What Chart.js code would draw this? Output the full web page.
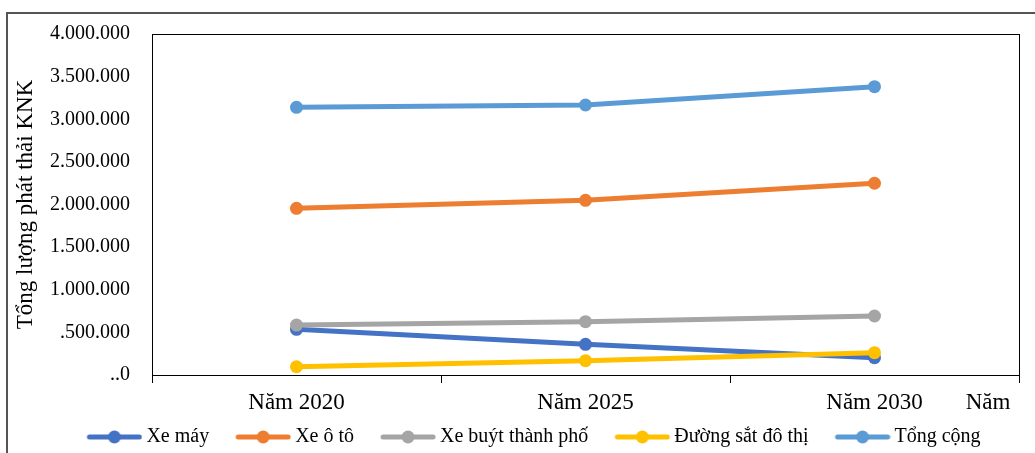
<!DOCTYPE html>
<html>
<head>
<meta charset="utf-8">
<script src="https://cdn.jsdelivr.net/npm/chart.js@4.4.1/dist/chart.umd.min.js"></script>
<style>
  html, body { margin: 0; padding: 0; background: #fff; }
  #wrap { position: relative; width: 1035px; height: 453px; }
</style>
</head>
<body>
<div id="wrap"><canvas id="c" width="1035" height="453"></canvas></div>
<script>
const categories = ['Năm 2020', 'Năm 2025', 'Năm 2030'];
const xeMay = [536000, 360000, 203000];
const xeOto = [1955000, 2049000, 2249000];
const xeBuyt = [586000, 625000, 692000];
const duongSat = [97000, 168000, 262000];
const tongCong = [3140000, 3167000, 3382000];
const yTickLabels = ['..0', '.500.000', '1.000.000', '1.500.000', '2.000.000', '2.500.000', '3.000.000', '3.500.000', '4.000.000'];
const seriesNames = ['Xe máy', 'Xe ô tô', 'Xe buýt thành phố', 'Đường sắt đô thị', 'Tổng cộng'];
const seriesColors = ['#4472C4', '#ED7D31', '#A5A5A5', '#FFC000', '#5B9BD5'];
const yTitle = 'Tổng lượng phát thải KNK';
const xTitle = 'Năm';

const FONT = '"Liberation Serif", "Times New Roman", serif';
const seriesData = [xeMay, xeOto, xeBuyt, duongSat, tongCong];

// legend marker: line with a circle; transparent left margin shifts it inside the legend box
function makeMarker(color) {
  const m = 24;
  const c = document.createElement('canvas');
  c.width = 56 + m; c.height = 16;
  const g = c.getContext('2d');
  g.strokeStyle = color; g.lineWidth = 5; g.lineCap = 'round';
  g.beginPath(); g.moveTo(m + 3, 8); g.lineTo(m + 53, 8); g.stroke();
  g.fillStyle = color;
  g.beginPath(); g.arc(m + 28, 8, 6.5, 0, Math.PI * 2); g.fill();
  return c;
}
const markers = seriesColors.map(makeMarker);

const datasets = seriesNames.map((name, i) => ({
  label: name,
  data: seriesData[i],
  borderColor: seriesColors[i],
  backgroundColor: seriesColors[i],
  pointBackgroundColor: seriesColors[i],
  pointBorderColor: seriesColors[i],
  borderWidth: 5,
  pointRadius: 6.5,
  pointBorderWidth: 0,
  pointHoverRadius: 6.5,
  tension: 0,
  order: seriesNames.length - i
}));

const framePlugin = {
  id: 'frame',
  beforeDraw(chart) {
    const ctx = chart.ctx;
    ctx.save();
    ctx.fillStyle = '#fff';
    ctx.fillRect(0, 0, chart.width, chart.height);
    ctx.strokeStyle = '#555';
    ctx.lineWidth = 2;
    ctx.beginPath();
    ctx.moveTo(7, 453); ctx.lineTo(7, 13); ctx.lineTo(1035, 13);
    ctx.stroke();
    ctx.restore();
  },
  beforeDatasetsDraw(chart) {
    const a = chart.chartArea, ctx = chart.ctx;
    ctx.save();
    ctx.strokeStyle = '#000';
    ctx.lineWidth = 1;
    ctx.strokeRect(Math.round(a.left) + 0.5, Math.round(a.top) + 0.5, Math.round(a.right - a.left), Math.round(a.bottom - a.top));
    ctx.restore();
  },
  afterDraw(chart) {
    const xs = chart.scales.x, ctx = chart.ctx;
    ctx.save();
    ctx.font = '23px ' + FONT;
    ctx.fillStyle = '#000';
    ctx.textAlign = 'center';
    ctx.textBaseline = 'middle';
    ctx.fillText(xTitle, 988, xs.top + 8 + 6 + 13.8);
    ctx.restore();
  }
};

new Chart(document.getElementById('c'), {
  type: 'line',
  data: { labels: categories, datasets },
  options: {
    responsive: false,
    animation: false,
    devicePixelRatio: 1,
    layout: { padding: { top: 33, right: 0, left: 14, bottom: -4 } },
    plugins: {
      tooltip: { enabled: false },
      legend: {
        position: 'bottom',
        labels: {
          usePointStyle: true,
          pointStyleWidth: 68,
          boxHeight: 20,
          padding: 8,
          color: '#000',
          font: { family: FONT, size: 20 },
          generateLabels: (chart) => chart.data.datasets.map((ds, i) => ({
            text: ds.label,
            fillStyle: ds.borderColor,
            strokeStyle: ds.borderColor,
            lineWidth: 0,
            pointStyle: markers[i],
            datasetIndex: i,
            hidden: false,
            fontColor: '#000'
          }))
        }
      }
    },
    scales: {
      x: {
        offset: true,
        grid: { display: true, offset: true, drawOnChartArea: false, drawTicks: true, tickLength: 8, color: '#000', lineWidth: 1 },
        border: { display: true, color: '#000', width: 1 },
        ticks: { color: '#000', font: { family: FONT, size: 23 }, padding: 6, maxRotation: 0 },
        afterFit(s) { s.height = 44; }
      },
      y: {
        min: 0, max: 4000000,
        grid: { display: false, drawTicks: false },
        border: { display: true, color: '#000', width: 1 },
        ticks: {
          stepSize: 500000,
          color: '#000',
          padding: 22,
          font: { family: FONT, size: 20 },
          callback: (v, i) => yTickLabels[i]
        },
        title: {
          display: true,
          text: yTitle,
          color: '#000',
          font: { family: FONT, size: 23 },
          padding: { top: -2, bottom: 0 }
        },
        afterFit(s) { s.width = 138; }
      },
      yRight: {
        position: 'right',
        display: true,
        grid: { display: false, drawTicks: false },
        border: { display: false },
        ticks: { display: false },
        afterFit(s) { s.width = 16; }
      }
    }
  },
  plugins: [framePlugin]
});
</script>
</body>
</html>
